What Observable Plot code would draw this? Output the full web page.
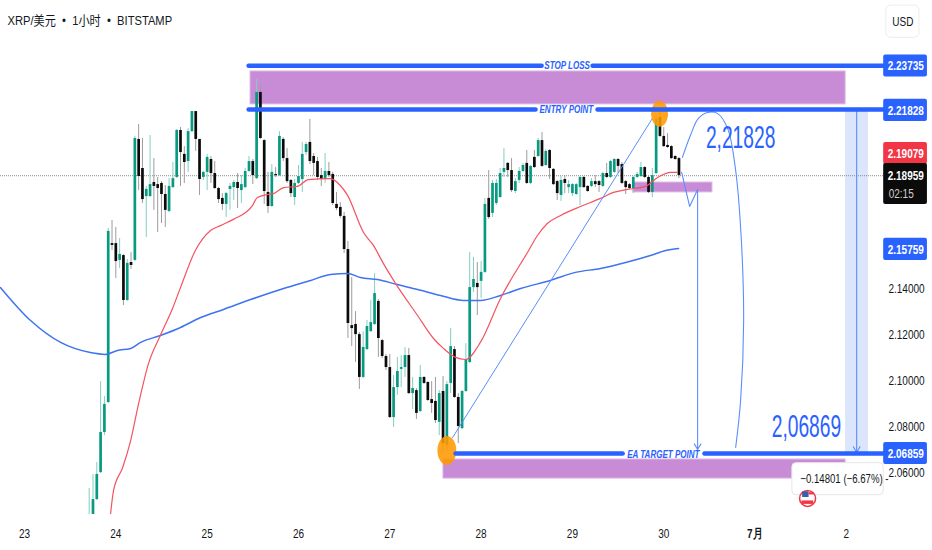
<!DOCTYPE html>
<html><head><meta charset="utf-8">
<style>html,body{margin:0;padding:0;background:#fff}svg{display:block}svg text{white-space:pre}</style>
<script src="https://cdn.jsdelivr.net/npm/d3@7"></script>
<script src="https://cdn.jsdelivr.net/npm/@observablehq/plot@0.6"></script>
</head><body><div id="chart"></div>
<script>
const font = '"Liberation Sans",sans-serif';
const firstHour = 17; // hours since 23 Jun 00:00
const opens = [2.0373,2.0413,2.0486,2.0603,2.0777,2.0907,2.1597,2.1597,2.1524,2.1545,
2.1350,2.1515,2.1524,2.2049,2.1923,2.1801,2.1801,2.1862,2.1853,2.1858,
2.1810,2.1736,2.1840,2.1884,2.2088,2.1984,2.1953,2.2083,2.2170,2.2049,
2.1884,2.1906,2.1962,2.1901,2.1836,2.1793,2.1767,2.1832,2.1840,2.1862,
2.1827,2.1840,2.1910,2.1953,2.1879,2.2253,2.2044,2.1819,2.1758,2.1897,
2.1892,2.2049,2.1966,2.1871,2.1797,2.1858,2.1875,2.1992,2.2036,2.1975,
2.1953,2.1892,2.1875,2.1910,2.1897,2.1767,2.1754,2.1715,2.1571,2.1241,
2.1246,2.1202,2.1016,2.1137,2.1215,2.1246,2.1346,2.1176,2.1107,2.1059,
2.0842,2.0972,2.1051,2.1059,2.1111,2.0946,2.0959,2.0868,2.1016,2.0994,
2.0920,2.0912,2.0821,2.0955,2.0721,2.0990,2.1137,2.0929,2.0794,2.0955,
2.1081,2.1406,2.1424,2.1433,2.1472,2.1793,2.1728,2.1771,2.1797,2.1906,
2.1945,2.1914,2.1823,2.1871,2.1910,2.1945,2.1858,2.1971,2.1975,2.2044,
2.1936,2.2001,2.1919,2.1866,2.1806,2.1875,2.1840,2.1814,2.1810,2.1840,
2.1884,2.1845,2.1845,2.1866,2.1866,2.1845,2.1901,2.1884,2.1906,2.1962,
2.1940,2.1866,2.1853,2.1836,2.1884,2.1888,2.1927,2.1884,2.1819,2.1901,
2.2144,2.2062,2.2023,2.2018,2.1975,2.1966];
const closes = [2.0413,2.0486,2.0595,2.0777,2.0899,2.1650,2.1589,2.1519,2.1550,2.1350,
2.1511,2.1502,2.2053,2.1888,2.1788,2.1832,2.1853,2.1845,2.1836,2.1810,
2.1741,2.1845,2.1879,2.2088,2.1992,2.1949,2.2083,2.2170,2.2049,2.1875,
2.1906,2.1971,2.1901,2.1836,2.1788,2.1767,2.1814,2.1845,2.1862,2.1836,
2.1853,2.1910,2.1953,2.1892,2.2253,2.2053,2.1823,2.1758,2.1906,2.1892,
2.2062,2.1966,2.1866,2.1814,2.1858,2.1888,2.1984,2.2027,2.1953,2.1945,
2.1884,2.1875,2.1910,2.1892,2.1771,2.1749,2.1715,2.1571,2.1250,2.1228,
2.1202,2.1016,2.1146,2.1237,2.1254,2.1380,2.1185,2.1107,2.1059,2.0842,
2.0972,2.1042,2.1059,2.1111,2.0946,2.0968,2.0860,2.1016,2.0990,2.0916,
2.0903,2.0829,2.0946,2.0729,2.0985,2.1150,2.0929,2.0803,2.0955,2.1094,
2.1406,2.1441,2.1406,2.1472,2.1767,2.1710,2.1858,2.1858,2.1901,2.1923,
2.1914,2.1827,2.1866,2.1910,2.1936,2.1858,2.1932,2.1927,2.2044,2.1932,
2.1997,2.1923,2.1853,2.1814,2.1871,2.1858,2.1853,2.1853,2.1853,2.1884,
2.1840,2.1823,2.1866,2.1853,2.1849,2.1901,2.1884,2.1953,2.1962,2.1932,
2.1858,2.1840,2.1836,2.1884,2.1897,2.1927,2.1884,2.1819,2.1892,2.2136,
2.2062,2.2018,2.2014,2.1966,2.1962,2.1892];
const highs = [2.0534,2.0595,2.0647,2.0998,2.0933,2.1663,2.1697,2.1667,2.1619,2.1550,
2.1528,2.1558,2.2062,2.2114,2.2053,2.1845,2.2066,2.1966,2.1884,2.1866,
2.1849,2.1879,2.1949,2.2092,2.2101,2.2018,2.2096,2.2170,2.2170,2.2049,
2.1910,2.1984,2.1975,2.1953,2.1840,2.1814,2.1819,2.1858,2.1871,2.1901,
2.1892,2.1923,2.1975,2.1962,2.2309,2.2283,2.2049,2.1906,2.1940,2.1927,
2.2083,2.2057,2.2010,2.1875,2.1875,2.1936,2.2036,2.2036,2.2136,2.1988,
2.1971,2.1923,2.1988,2.1949,2.1906,2.1819,2.1775,2.1732,2.1606,2.1450,
2.1302,2.1211,2.1215,2.1263,2.1350,2.1467,2.1354,2.1181,2.1116,2.1116,
2.1024,2.1103,2.1111,2.1146,2.1142,2.1016,2.0968,2.1068,2.1020,2.0998,
2.0998,2.1016,2.0959,2.1020,2.0998,2.1228,2.1150,2.0946,2.0959,2.1163,
2.1558,2.1537,2.1515,2.1519,2.1793,2.1914,2.1871,2.1875,2.1923,2.2010,
2.1949,2.1966,2.1879,2.1927,2.1945,2.2001,2.1936,2.2001,2.2053,2.2079,
2.2005,2.2005,2.1923,2.1871,2.1888,2.1892,2.1871,2.1858,2.1858,2.1888,
2.1888,2.1849,2.1879,2.1892,2.1871,2.1906,2.1945,2.1958,2.1966,2.1966,
2.1949,2.1871,2.1858,2.1888,2.1906,2.1949,2.1932,2.1888,2.1923,2.2153,
2.2183,2.2101,2.2075,2.2023,2.1979,2.1971];
const lows = [2.0352,2.0395,2.0482,2.0599,2.0764,2.0903,2.1567,2.1445,2.1489,2.1328,
2.1346,2.1485,2.1519,2.1827,2.1771,2.1623,2.1797,2.1741,2.1645,2.1684,
2.1667,2.1732,2.1836,2.1879,2.1845,2.1858,2.1906,2.2079,2.1997,2.1806,
2.1871,2.1827,2.1858,2.1832,2.1771,2.1741,2.1710,2.1741,2.1784,2.1749,
2.1771,2.1836,2.1906,2.1853,2.1875,2.2049,2.1767,2.1728,2.1754,2.1884,
2.1888,2.1953,2.1858,2.1797,2.1762,2.1853,2.1819,2.1979,2.1940,2.1892,
2.1871,2.1845,2.1858,2.1884,2.1762,2.1741,2.1706,2.1554,2.1185,2.1150,
2.1081,2.0964,2.1011,2.1133,2.1211,2.1241,2.1103,2.1098,2.1046,2.0838,
2.0799,2.0938,2.0972,2.1016,2.0942,2.0877,2.0834,2.0864,2.0985,2.0912,
2.0860,2.0816,2.0764,2.0686,2.0695,2.0946,2.0925,2.0729,2.0790,2.0951,
2.1076,2.1385,2.1285,2.1359,2.1467,2.1702,2.1710,2.1762,2.1793,2.1884,
2.1884,2.1819,2.1814,2.1858,2.1906,2.1853,2.1853,2.1923,2.1971,2.1927,
2.1932,2.1875,2.1849,2.1784,2.1780,2.1814,2.1814,2.1801,2.1806,2.1762,
2.1836,2.1819,2.1840,2.1840,2.1819,2.1840,2.1879,2.1879,2.1901,2.1901,
2.1853,2.1810,2.1832,2.1814,2.1879,2.1884,2.1879,2.1814,2.1797,2.1897,
2.2057,2.2014,2.2010,2.1962,2.1958,2.1879];

const fastHours = [22.6,23.4,25.8,27.9,30,32.6,35.7,38.9,41,44.9,48.9,51.5,54.9,59.9,61.2,63.9,65.4,68.1,71.7,74.6,80.4,83,84.9,89.1,91.7,94.3,97.5,103.3,107.5,110.1,113.3,115.9,119.8,125.1,132.5,134.8,137.4,140.9,146.1,151.4,154.8,158.5,163.2,166.4,169.8,171.6];
const fastMA = [2.0421,2.0525,2.0625,2.0742,2.0903,2.1077,2.1198,2.1315,2.1406,2.1567,2.1654,2.1675,2.1702,2.1762,2.1797,2.1810,2.1814,2.1840,2.1845,2.1875,2.1879,2.1849,2.1806,2.1645,2.1589,2.1511,2.1424,2.1285,2.1185,2.1142,2.1103,2.1094,2.1168,2.1359,2.1567,2.1632,2.1684,2.1719,2.1758,2.1793,2.1819,2.1832,2.1845,2.1884,2.1906,2.1906];
const slowHours = [-6.3,1.6,9.5,17.3,21.3,24.4,27.9,30.5,35.7,41,46.3,52.3,59.4,68.1,75.2,80.4,84.9,88.3,92.8,98,103.3,109.3,115.4,119.8,125.1,130.4,138.2,144.8,151.4,158,164.5,168.5,171.9];
const slowMA = [2.1406,2.1263,2.1168,2.1124,2.1116,2.1133,2.1142,2.1168,2.1198,2.1233,2.1276,2.1311,2.1354,2.1402,2.1437,2.1463,2.1467,2.1450,2.1441,2.1419,2.1398,2.1372,2.1350,2.1350,2.1372,2.1402,2.1437,2.1472,2.1489,2.1515,2.1545,2.1567,2.1576];

const dayHours = [0,24,48,72,96,120,144,168,216];
const dayLabels = ["23","24","25","26","27","28","29","30","2"];
const monthHour = 192, monthLabel = "7月";
const priceTicks = [2.14,2.12,2.10,2.08,2.06];

const stopLoss = 2.23735, entry = 2.21828, target = 2.06859, ma200 = 2.15759, last = 2.18959, prevClose = 2.19079;
const upperLevels = [
  {p:stopLoss,x1:58.9,x2:135.9},{p:stopLoss,x1:149.3,x2:225.8},
  {p:entry,x1:58.9,x2:134.3},{p:entry,x1:150.6,x2:225.8}];
const lowerLevels = [{p:target,x1:113.3,x2:157.2},{p:target,x1:178.7,x2:225.8}];
const levelTexts = [{t:"STOP LOSS",h:142.6,p:stopLoss},{t:"ENTRY POINT",h:142.4,p:entry},{t:"EA TARGET POINT",h:167.9,p:target}];
const zones = [
  {x1:59.4,x2:215.8,y1:2.2201,y2:2.2344},
  {x1:110.1,x2:215.8,y1:2.0577,y2:2.0660},
  {x1:160,x2:180.8,y1:2.1819,y2:2.1862}];
const labelX1 = 225.8, labelX2 = 237.3, labelPad = 0.0048;
const priceLabels = [
  {p:stopLoss,y:2.2368,c:"#2962ff"},{p:entry,y:2.2175,c:"#2962ff"},
  {p:prevClose,y:2.1988,c:"#f23645"},{p:ma200,y:2.1572,c:"#2962ff"},{p:target,y:2.0686,c:"#2962ff"}];

const curveHours = [172.9,175,177.1,179.5,182.1,184.8,186.9,188.4,189,188.2,186.9];
const curvePrices = [2.1971,2.2066,2.2140,2.2166,2.2162,2.2096,2.1914,2.1610,2.1263,2.0916,2.0712];
const zigHours = [172.7,174.8,176.9];
const zigPrices = [2.1906,2.1758,2.1832];
const trendHours = [112.5,165];
const trendPrices = [2.0755,2.2140];
const markerHours = [111,166.9];
const markerPrices = [2.0699,2.2161];
const markerSizes = [14.5,13];

const candles = opens.map((o,i)=>({h:firstHour+i,o,c:closes[i],hi:highs[i],lo:lows[i],up:closes[i]>=o}));
const markers = markerHours.map((h,i)=>({h,p:markerPrices[i],r:markerSizes[i]}));
const GREEN="#089981", BLACK="#0b0b0b", BLUE="#2962ff", LINE="#5b8dfb";
const ellipse = {draw(ctx,size){const r=Math.sqrt(size/Math.PI),a=r*0.65,b=r,k=0.5523;
  ctx.moveTo(a,0);ctx.bezierCurveTo(a,k*b,k*a,b,0,b);ctx.bezierCurveTo(-k*a,b,-a,k*b,-a,0);
  ctx.bezierCurveTo(-a,-k*b,-k*a,-b,0,-b);ctx.bezierCurveTo(k*a,-b,a,-k*b,a,0);ctx.closePath();}};

const plot = Plot.plot({
  width:932,height:550,marginTop:0,marginRight:0,marginLeft:0,marginBottom:36,
  style:{background:"#fff",fontFamily:font},
  x:{domain:[-6.3075,238.63],axis:null},
  y:{domain:[2.04212,2.2652],axis:null},
  r:{type:"identity"},
  marks:[
    Plot.rect([{}],{x1:215.8,x2:221.8,y1:2.0686,y2:2.2175,fill:"#dbe5fb"}),
    Plot.rect(zones,{x1:"x1",x2:"x2",y1:"y1",y2:"y2",fill:"#c88cd6",stroke:"#ddb9e6",strokeWidth:1}),
    Plot.ruleY([last],{x1:-6.3,x2:225.8,stroke:"#8a8a8a",strokeWidth:1,strokeDasharray:"1,1",dy:1}),
    Plot.ruleX(candles,{x:"h",y1:"lo",y2:"hi",stroke:d=>d.up?"#82cfc1":"#9c9c9c",strokeWidth:1,clip:"frame"}),
    Plot.ruleX(candles,{x:"h",y1:"o",y2:"c",stroke:d=>d.up?GREEN:BLACK,strokeWidth:2.7,clip:"frame"}),
    Plot.line(slowHours.map((h,i)=>[h,slowMA[i]]),{x:"0",y:"1",stroke:"#3f73f0",strokeWidth:1.5,curve:"monotone-x"}),
    Plot.line(fastHours.map((h,i)=>[h,fastMA[i]]),{x:"0",y:"1",stroke:"#f4535f",strokeWidth:1.2,curve:"monotone-x",clip:"frame"}),
    Plot.line(trendHours.map((h,i)=>[h,trendPrices[i]]),{x:"0",y:"1",stroke:LINE,strokeWidth:1}),
    Plot.line(curveHours.map((h,i)=>[h,curvePrices[i]]),{x:"0",y:"1",stroke:LINE,strokeWidth:1.1,curve:"catmull-rom"}),
    Plot.line(zigHours.map((h,i)=>[h,zigPrices[i]]),{x:"0",y:"1",stroke:LINE,strokeWidth:1.1}),
    Plot.arrow([{}],{x1:176.9,x2:176.9,y1:2.1832,y2:2.0703,stroke:LINE,strokeWidth:1.1,headLength:9,headAngle:60}),
    Plot.arrow([{}],{x1:218.7,x2:218.7,y1:2.2175,y2:2.0690,stroke:LINE,strokeWidth:1.1,headLength:9,headAngle:60}),
    Plot.dot(markers,{x:"h",y:"p",r:"r",symbol:ellipse,fill:"#ff9800",fillOpacity:0.88,stroke:"none"}),
    Plot.link(upperLevels,{x1:"x1",x2:"x2",y1:"p",y2:"p",dy:1,stroke:BLUE,strokeWidth:4.5,strokeLinecap:"round"}),
    Plot.link(lowerLevels,{x1:"x1",x2:"x2",y1:"p",y2:"p",stroke:BLUE,strokeWidth:4.5,strokeLinecap:"round"}),
    Plot.text(levelTexts,{x:"h",y:"p",text:"t",fill:BLUE,fontSize:11.5,fontStyle:"italic",fontWeight:600,dy:0.5}),
    Plot.text(["2,21828"],{x:()=>188.2,y:()=>2.2053,text:d=>d,fill:BLUE,fontSize:31}),
    Plot.text(["2,06869"],{x:()=>205.5,y:()=>2.0800,text:d=>d,fill:BLUE,fontSize:31}),
    Plot.text(priceTicks,{x:()=>231.8,y:d=>d,text:d=>d.toFixed(5),fill:"#131722",fontSize:13,textAnchor:"middle"}),
    Plot.rect(priceLabels,{x1:labelX1,x2:labelX2,y1:d=>d.y-labelPad,y2:d=>d.y+labelPad,fill:"c",rx:2}),
    Plot.rect([{}],{x1:labelX1,x2:labelX2,y1:2.1767,y2:2.1945,fill:"#0b0b0b",rx:2}),
    Plot.text(priceLabels,{x:()=>231.6,y:"y",text:d=>d.p.toFixed(5),fill:"#fff",fontSize:13,fontWeight:600}),
    Plot.text([last],{x:()=>231.6,y:()=>2.1893,text:d=>d.toFixed(5),fill:"#fff",fontSize:13,fontWeight:600}),
    Plot.text(["02:15"],{x:()=>230.4,y:()=>2.1814,text:d=>d,fill:"#d0d0d0",fontSize:13}),
    Plot.rect([{}],{x1:201.8,x2:225.8,y1:2.0505,y2:2.0644,fill:"#fff",stroke:"#e6e6e6",rx:4}),
    Plot.text(["−0.14801 (−6.67%) -"],{x:()=>203.9,y:()=>2.0575,text:d=>d,textAnchor:"start",fill:"#131722",fontSize:12.5}),
    Plot.dot([{}],{x:()=>205.8,y:()=>2.0491,r:8,fill:"#fff",stroke:"#f23645",strokeWidth:1.5}),
    Plot.rect([{}],{x1:204.5,x2:206.2,y1:2.0495,y2:2.0520,fill:"#3b5fae"}),
    Plot.rect([{}],{x1:206.2,x2:207.5,y1:2.0506,y2:2.0516,fill:"#f23645"}),
    Plot.rect([{}],{x1:204.3,x2:207.4,y1:2.0465,y2:2.0480,fill:"#f23645"}),
    Plot.axisX(dayHours,{anchor:"bottom",tickSize:0,tickPadding:14,fontSize:13,fill:"#131722",label:null,
      tickFormat:d=>dayLabels[dayHours.indexOf(d)]}),
    Plot.axisX([monthHour],{anchor:"bottom",tickSize:0,tickPadding:14,fontSize:13,fontWeight:700,fill:"#131722",label:null,
      tickFormat:()=>monthLabel}),
    Plot.text(["XRP/美元  •  1小时  •  BITSTAMP"],{frameAnchor:"top-left",dx:7,dy:15,text:d=>d,fontSize:13,fill:"#131722",
      fontFamily:'"Liberation Sans","Noto Sans CJK SC",sans-serif'}),
    Plot.rect([{}],{x1:226.5,x2:235.2,y1:2.2490,y2:2.2630,fill:"#fff",stroke:"#ececec",rx:5}),
    Plot.text(["USD"],{x:()=>230.85,y:()=>2.2560,text:d=>d,fontSize:13,fill:"#131722"})
  ]
});
// The reference's type is horizontally condensed: narrow each real text around its own anchor.
plot.querySelectorAll("text").forEach(t=>{
  const s = t.textContent;
  const k = s.startsWith("2,") ? 0.62 : s.startsWith("XRP") ? 0.86 : /^[A-Z ]+ (LOSS|POINT)$/.test(s) ? 0.7 : 0.77;
  t.setAttribute("transform",(t.getAttribute("transform")||"")+` scale(${k},1)`);
});
document.getElementById("chart").append(plot);
</script>
</body></html>
